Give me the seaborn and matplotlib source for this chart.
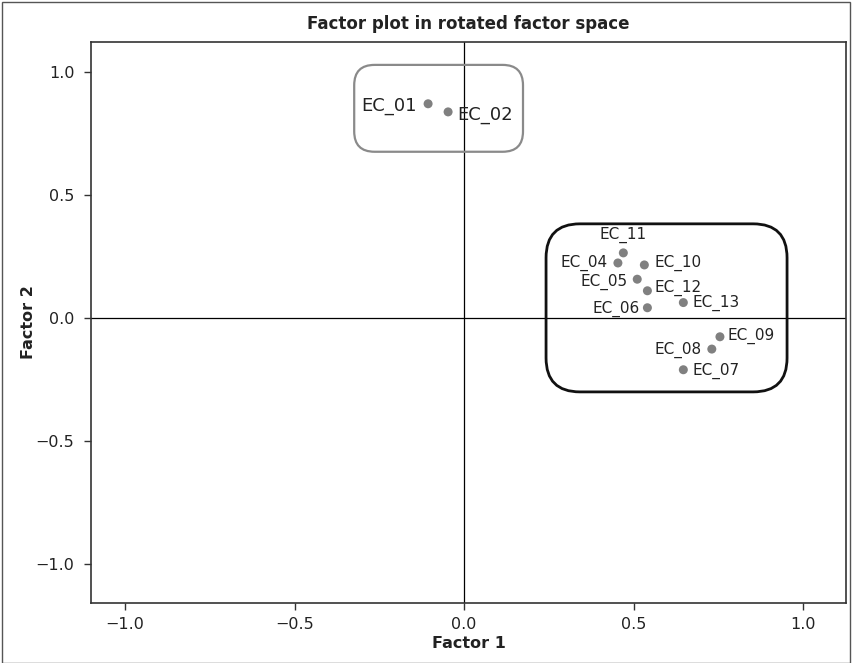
import numpy as np
import pandas as pd
import matplotlib
matplotlib.use("Agg")
import matplotlib.pyplot as plt
import seaborn as sns
from matplotlib.patches import FancyBboxPatch, Rectangle

# 载荷数据
items = ["EC_01", "EC_02", "EC_04", "EC_05", "EC_06", "EC_07", "EC_08",
         "EC_09", "EC_10", "EC_11", "EC_12", "EC_13"]
factor1 = [-0.106, -0.047, 0.454, 0.511, 0.541, 0.647, 0.731,
           0.755, 0.532, 0.470, 0.541, 0.647]
factor2 = [0.870, 0.837, 0.223, 0.157, 0.041, -0.211, -0.127,
           -0.077, 0.215, 0.264, 0.110, 0.062]

# 标签相对点的偏移（像素）、对齐方式和字号
label_offsets = {
    "EC_01": (-11, -2, "right", "center", 13),
    "EC_02": (9, -3, "left", "center", 13),
    "EC_04": (-10, 0, "right", "center", 11),
    "EC_05": (-10, -3, "right", "center", 11),
    "EC_06": (-8, -1, "right", "center", 11),
    "EC_07": (9, -1, "left", "center", 11),
    "EC_08": (-10, -1, "right", "center", 11),
    "EC_09": (8, 1, "left", "center", 11),
    "EC_10": (10, 2, "left", "center", 11),
    "EC_11": (0, 10, "center", "bottom", 11),
    "EC_12": (7, 3, "left", "center", 11),
    "EC_13": (9, 0, "left", "center", 11),
}

ticks = [-1.0, -0.5, 0.0, 0.5, 1.0]
tick_labels = ["\u22121.0", "\u22120.5", "0.0", "0.5", "1.0"]

# 两个分组框 (x0, y0, x1, y1)
box_grey = (-0.324, 0.675, 0.174, 1.028)
box_black = (0.242, -0.301, 0.953, 0.382)

df = pd.DataFrame({"item": items, "Factor 1": factor1, "Factor 2": factor2})

sns.set_theme(style="white")
plt.rcParams['font.family'] = ['DejaVu Sans']
plt.rcParams['axes.unicode_minus'] = False

fig = plt.figure(figsize=(8.52, 6.63), dpi=100)
ax = fig.add_axes([0.107, 0.0905, 0.886, 0.8465])

ax.axhline(0, color="black", lw=0.9, zorder=1)
ax.axvline(0, color="black", lw=0.9, zorder=1)

sns.scatterplot(data=df, x="Factor 1", y="Factor 2", ax=ax, color="#808080",
                s=42, edgecolor="none", zorder=3)

for _, row in df.iterrows():
    dx, dy, ha, va, fs = label_offsets[row["item"]]
    ax.annotate(row["item"], (row["Factor 1"], row["Factor 2"]),
                xytext=(dx, dy), textcoords="offset pixels",
                ha=ha, va=va, fontsize=fs, color="#222222", zorder=4)

# 圆角框，mutation_aspect 修正纵横比例
for (x0, y0, x1, y1), col, rs, lw in [(box_grey, "#8a8a8a", 0.06, 1.6),
                                      (box_black, "#111111", 0.1, 2.0)]:
    patch = FancyBboxPatch((x0, y0), x1 - x0, y1 - y0,
                           boxstyle=f"round,pad=0,rounding_size={rs}",
                           mutation_aspect=1.378, fill=False,
                           edgecolor=col, lw=lw, zorder=2)
    ax.add_patch(patch)

ax.set_xlim(-1.10, 1.127)
ax.set_ylim(-1.159, 1.122)
ax.set_xticks(ticks)
ax.set_xticklabels(tick_labels)
ax.set_yticks(ticks)
ax.set_yticklabels(tick_labels)
ax.tick_params(axis="both", direction="out", length=5, width=1,
               color="#333333", labelsize=11.5, labelcolor="#222222",
               bottom=True, left=True)
ax.tick_params(axis="x", pad=5)
ax.tick_params(axis="y", pad=7)
for sp in ax.spines.values():
    sp.set_color("#333333")
    sp.set_linewidth(1.2)

ax.set_xlabel("Factor 1", fontsize=11.5, fontweight="bold", color="#222222", labelpad=3)
ax.set_ylabel("Factor 2", fontsize=11.5, fontweight="bold", color="#222222", labelpad=0)
ax.set_title("Factor plot in rotated factor space", fontsize=12, fontweight="bold",
             color="#222222", pad=9)

# 外边框
fig.patches.append(Rectangle((0.002, 0.0), 0.996, 0.997, transform=fig.transFigure,
                             fill=False, edgecolor="#555555", lw=1.0))

fig.savefig("out.png", dpi=100)
